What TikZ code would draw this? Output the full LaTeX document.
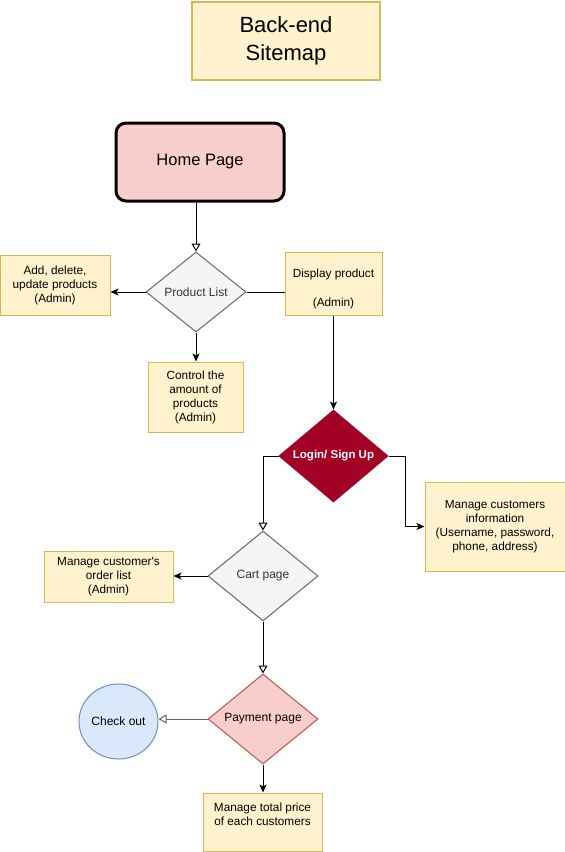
\documentclass[tikz,border=0pt]{standalone}
\usepackage{fontspec}
\setmainfont{Liberation Sans}
\usetikzlibrary{shapes.geometric, arrows.meta}

\definecolor{notefill}{HTML}{FFF2CC}
\definecolor{noteline}{HTML}{D6B656}
\definecolor{redfill}{HTML}{F8CECC}
\definecolor{redline}{HTML}{B85450}
\definecolor{greyfill}{HTML}{F5F5F5}
\definecolor{greyline}{HTML}{666666}
\definecolor{greytext}{HTML}{333333}
\definecolor{wine}{HTML}{A20025}
\definecolor{bluefill}{HTML}{DAE8FC}
\definecolor{blueline}{HTML}{6C8EBF}

\begin{document}
\begin{tikzpicture}[x=1pt, y=-1pt, line width=1pt,
	>={Stealth[length=8pt, width=7pt, inset=2pt]},
	open/.style={-{Triangle[open, length=8pt, width=9pt]}},
	note/.style={rectangle, draw=noteline, fill=notefill, align=center, font=\fontsize{11.8}{14}\selectfont, inner sep=2pt},
	choice/.style={diamond, draw=greyline, fill=greyfill, text=greytext, font=\fontsize{12}{14}\selectfont, inner sep=0pt}]
	\useasboundingbox (0,0) rectangle (565,852);
	
	\node[note, line width=2pt, minimum width=188pt, minimum height=78pt, font=\fontsize{22}{28}\selectfont] (title) at (286,41) {Back-end\\Sitemap};
	\node[rectangle, rounded corners=10pt, draw=black, line width=3pt, fill=redfill, minimum width=168pt, minimum height=78pt, font=\fontsize{16.5}{20}\selectfont] (home) at (200,162) {Home Page};
	
	\node[choice, minimum width=100pt, minimum height=80pt] (plist) at (196,292) {Product List};
	\node[note, minimum width=110pt, minimum height=60pt] (add) at (55,285) {Add, delete,\\update products\\(Admin)};
	\node[note, minimum width=97pt, minimum height=63pt] (disp) at (333.5,283.5) {\mbox{}\\[5pt]Display product\\[15pt](Admin)};
	\node[note, minimum width=95pt, minimum height=70pt] (ctrl) at (195.5,397) {Control the\\amount of\\products\\(Admin)};
	
	\node[diamond, draw=wine, fill=wine, text=white, font=\fontsize{11.5}{14}\selectfont\bfseries, inner sep=0pt, minimum width=109pt, minimum height=90pt] (login) at (333.5,456) {Login/ Sign Up};
	\node[note, minimum width=140pt, minimum height=89pt] (info) at (495,526.5) {Manage customers\\information\\(Username, password,\\phone, address)};
	
	\node[choice, minimum width=110pt, minimum height=90pt] (cart) at (263,576) {Cart page};
	\node[note, minimum width=129pt, minimum height=51pt] (order) at (108.5,576.5) {Manage customer\textquotesingle s\\order list\\(Admin)};
	
	\node[diamond, draw=redline, fill=redfill, font=\fontsize{12}{14}\selectfont, inner sep=0pt, minimum width=110pt, minimum height=90pt] (pay) at (263,719) {Payment page};
	\node[ellipse, draw=blueline, fill=bluefill, font=\fontsize{12}{14}\selectfont, inner sep=0pt, minimum width=79pt, minimum height=75pt] (check) at (118.5,721.5) {Check out};
	\node[note, minimum width=119pt, minimum height=58pt] (total) at (262.5,822) {Manage total price\\of each customers\\[2pt]};
	
	\draw[open] (plist.north |- home.south) -- (plist.north);
	\draw[->] (plist.west) -- (plist.west -| add.east);
	\draw (plist.east) -- (plist.east -| disp.west);
	\draw[->] (plist.south) -- (plist.south |- ctrl.north);
	\draw[->] (disp.south) -- (login.north);
	\draw[open] (login.west) -| (cart.north);
	\draw[->] (login.east) -- ++(17,0) |- (info.west);
	\draw[->] (cart.west) -- (cart.west -| order.east);
	\draw[open] (cart.south) -- (pay.north);
	\draw[open, draw=greyline] (pay.west) -- (pay.west -| check.east);
	\draw[->] (pay.south) -- (pay.south |- total.north);
\end{tikzpicture}
\end{document}
